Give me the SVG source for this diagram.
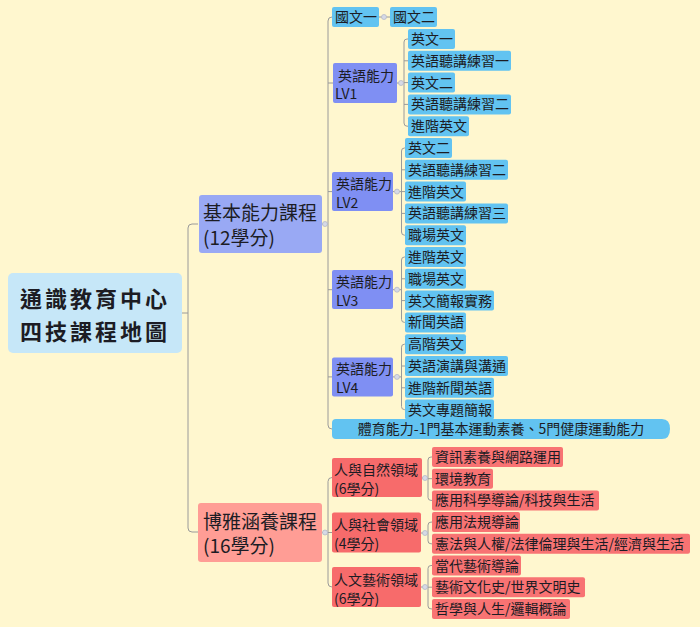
<svg xmlns="http://www.w3.org/2000/svg" width="700" height="627" viewBox="0 0 700 627">
<style>
text{font-family:"Noto Sans CJK TC","Noto Sans",sans-serif;fill:#1c1c24;font-size:14px}
.root{fill:#C6E7F8}
.l1b{fill:#99A9F4}
.lv{fill:#7F8FF3}
.cb{fill:#62C3F1}
.l1r{fill:#FF9D95}
.dr{fill:#F76B6B}
.cr{fill:#F87373}
.big{font-size:19px}
.rt{font-size:22px;font-weight:bold;letter-spacing:3px}
.con{fill:none;stroke:#9a9a9a;stroke-width:1}
.dot{fill:#d6dae6;stroke:#b5b9c8;stroke-width:0.8}
</style>
<rect width="700" height="627" fill="#FFF7CF"/>
<g id="connectors">
<path class="con" d="M182,313 H188 M198,224 H192 Q188,224 188,228 V528 Q188,532 192,532 H198"/>
<path class="con" d="M322,224 H328 M333,17 H332 Q328,17 328,21 V425 Q328,429 332,429 M328,83 H333 M328,191.6 H332 M328,289.7 H332 M328,376.9 H332"/>
<path class="con" d="M379,17 H390"/>
<path class="con" d="M397,83 H404 M408,39 H407 Q404,39 404,42 V123 Q404,126.2 407,126.2 H408 M404,60.8 H408 M404,82.6 H408 M404,104.4 H408"/>
<path class="con" d="M393,191.6 H401.5 M405,148 H404.5 Q401.5,148 401.5,151 V232 Q401.5,235.2 404.5,235.2 H405 M401.5,169.8 H405 M401.5,191.6 H405 M401.5,213.4 H405"/>
<path class="con" d="M393,289.7 H401.5 M405,257 H404.5 Q401.5,257 401.5,260 V319.4 Q401.5,322.4 404.5,322.4 H405 M401.5,278.8 H405 M401.5,300.6 H405"/>
<path class="con" d="M393,376.9 H401.5 M405,344.2 H404.5 Q401.5,344.2 401.5,347.2 V406.6 Q401.5,409.6 404.5,409.6 H405 M401.5,366 H405 M401.5,387.8 H405"/>
<path class="con" d="M322,532.5 H332 M332,477.5 Q328,477.5 328,481.5 V583 Q328,587 332,587"/>
<path class="con" d="M422,478 H428 M432,457 H431 Q428,457 428,460 V497.4 Q428,500.4 431,500.4 H432 M428,478.7 H432"/>
<path class="con" d="M421,533 H428 M432,522.1 H431 Q428,522.1 428,525.1 V540.8 Q428,543.8 431,543.8 H432"/>
<path class="con" d="M421,587 H428 M432,565.5 H431 Q428,565.5 428,568.5 V605.9 Q428,608.9 431,608.9 H432 M428,587.2 H432"/>
<circle class="dot" cx="325" cy="224" r="2.5"/>
<circle class="dot" cx="384" cy="17" r="2.5"/>
<circle class="dot" cx="401" cy="83" r="2.5"/>
<circle class="dot" cx="397" cy="191.6" r="2.5"/>
<circle class="dot" cx="397" cy="289.7" r="2.5"/>
<circle class="dot" cx="397" cy="376.9" r="2.5"/>
<circle class="dot" cx="325" cy="532.5" r="2.5"/>
<circle class="dot" cx="425" cy="478" r="2.5"/>
<circle class="dot" cx="425" cy="533" r="2.5"/>
<circle class="dot" cx="425" cy="587" r="2.5"/>
</g>
<g id="root"><rect class="root" x="8" y="273" width="174" height="80" rx="5"/><text class="rt" x="20" y="307">通識教育中心</text><text class="rt" x="20" y="340">四技課程地圖</text></g>
<g id="basic"><rect class="l1b" x="199" y="195" width="123" height="58" rx="3"/><text class="big" x="203" y="220">基本能力課程</text><text class="big" x="203" y="244.5">(12學分)</text></g>
<g id="liberal"><rect class="l1r" x="198" y="503" width="124" height="59" rx="3"/><text class="big" x="203" y="528.5">博雅涵養課程</text><text class="big" x="203" y="553">(16學分)</text></g>
<g id="chinese1"><rect class="cb" x="332" y="7" width="47" height="20" rx="2"/><text x="335" y="22">國文一</text></g>
<g id="chinese2"><rect class="cb" x="390" y="7" width="47" height="20" rx="2"/><text x="393" y="22">國文二</text></g>
<g id="lv1"><rect class="lv" x="333" y="63" width="64" height="40" rx="2"/><text x="338" y="80.5">英語能力</text><text x="335" y="98.5">LV1</text></g>
<g id="lv1-a"><rect class="cb" x="408" y="29" width="47" height="20" rx="2"/><text x="411" y="44">英文一</text></g>
<g id="lv1-b"><rect class="cb" x="408" y="50.8" width="103" height="20" rx="2"/><text x="411" y="65.8">英語聽講練習一</text></g>
<g id="lv1-c"><rect class="cb" x="408" y="72.6" width="47" height="20" rx="2"/><text x="411" y="87.6">英文二</text></g>
<g id="lv1-d"><rect class="cb" x="408" y="94.4" width="103" height="20" rx="2"/><text x="411" y="109.4">英語聽講練習二</text></g>
<g id="lv1-e"><rect class="cb" x="408" y="116.2" width="61" height="20" rx="2"/><text x="411" y="131.2">進階英文</text></g>
<g id="lv2"><rect class="lv" x="332" y="172" width="61" height="39" rx="2"/><text x="336" y="188.5">英語能力</text><text x="336" y="207.5">LV2</text></g>
<g id="lv2-a"><rect class="cb" x="405" y="138" width="47" height="20" rx="2"/><text x="408" y="153">英文二</text></g>
<g id="lv2-b"><rect class="cb" x="405" y="159.8" width="103" height="20" rx="2"/><text x="408" y="174.8">英語聽講練習二</text></g>
<g id="lv2-c"><rect class="cb" x="405" y="181.6" width="61" height="20" rx="2"/><text x="408" y="196.6">進階英文</text></g>
<g id="lv2-d"><rect class="cb" x="405" y="203.4" width="103" height="20" rx="2"/><text x="408" y="218.4">英語聽講練習三</text></g>
<g id="lv2-e"><rect class="cb" x="405" y="225.2" width="61" height="20" rx="2"/><text x="408" y="240.2">職場英文</text></g>
<g id="lv3"><rect class="lv" x="332" y="270" width="61" height="39" rx="2"/><text x="336" y="286.5">英語能力</text><text x="336" y="305.5">LV3</text></g>
<g id="lv3-a"><rect class="cb" x="405" y="247" width="61" height="20" rx="2"/><text x="408" y="262">進階英文</text></g>
<g id="lv3-b"><rect class="cb" x="405" y="268.8" width="61" height="20" rx="2"/><text x="408" y="283.8">職場英文</text></g>
<g id="lv3-c"><rect class="cb" x="405" y="290.6" width="89" height="20" rx="2"/><text x="408" y="305.6">英文簡報實務</text></g>
<g id="lv3-d"><rect class="cb" x="405" y="312.4" width="61" height="20" rx="2"/><text x="408" y="327.4">新聞英語</text></g>
<g id="lv4"><rect class="lv" x="332" y="357.4" width="61" height="39" rx="2"/><text x="336" y="373.9">英語能力</text><text x="336" y="392.9">LV4</text></g>
<g id="lv4-a"><rect class="cb" x="405" y="334.2" width="61" height="20" rx="2"/><text x="408" y="349.2">高階英文</text></g>
<g id="lv4-b"><rect class="cb" x="405" y="356" width="103" height="20" rx="2"/><text x="408" y="371">英語演講與溝通</text></g>
<g id="lv4-c"><rect class="cb" x="405" y="377.8" width="89" height="20" rx="2"/><text x="408" y="392.8">進階新聞英語</text></g>
<g id="lv4-d"><rect class="cb" x="405" y="399.6" width="89" height="20" rx="2"/><text x="408" y="414.6">英文專題簡報</text></g>
<g id="pe"><path class="cb" d="M336,419 H662 Q670,419 670,429 Q670,439 662,439 H336 Q332,439 332,435 V423 Q332,419 336,419 Z"/><text x="501" y="434" text-anchor="middle">體育能力-1門基本運動素養、5門健康運動能力</text></g>
<g id="nature"><rect class="dr" x="332" y="458" width="90" height="39" rx="2"/><text x="334" y="475">人與自然領域</text><text x="334" y="494">(6學分)</text></g>
<g id="nature-a"><rect class="cr" x="432" y="447" width="131" height="20" rx="2"/><text x="435" y="462">資訊素養與網路運用</text></g>
<g id="nature-b"><rect class="cr" x="432" y="468.7" width="61" height="20" rx="2"/><text x="435" y="483.7">環境教育</text></g>
<g id="nature-c"><rect class="cr" x="432" y="490.4" width="167" height="20" rx="2"/><text x="435" y="505.4">應用科學導論/科技與生活</text></g>
<g id="society"><rect class="dr" x="332" y="512.5" width="89" height="40" rx="2"/><text x="334" y="530">人與社會領域</text><text x="334" y="549">(4學分)</text></g>
<g id="society-a"><rect class="cr" x="432" y="512.1" width="88" height="20" rx="2"/><text x="435" y="527.1">應用法規導論</text></g>
<g id="society-b"><rect class="cr" x="432" y="533.8" width="258" height="20" rx="2"/><text x="435" y="548.8">憲法與人權/法律倫理與生活/經濟與生活</text></g>
<g id="arts"><rect class="dr" x="332" y="567" width="89" height="40" rx="2"/><text x="334" y="584.5">人文藝術領域</text><text x="334" y="603.5">(6學分)</text></g>
<g id="arts-a"><rect class="cr" x="432" y="555.5" width="89" height="20" rx="2"/><text x="435" y="570.5">當代藝術導論</text></g>
<g id="arts-b"><rect class="cr" x="432" y="577.2" width="153" height="20" rx="2"/><text x="435" y="592.2">藝術文化史/世界文明史</text></g>
<g id="arts-c"><rect class="cr" x="432" y="598.9" width="138" height="20" rx="2"/><text x="435" y="613.9">哲學與人生/邏輯概論</text></g>
</svg>
